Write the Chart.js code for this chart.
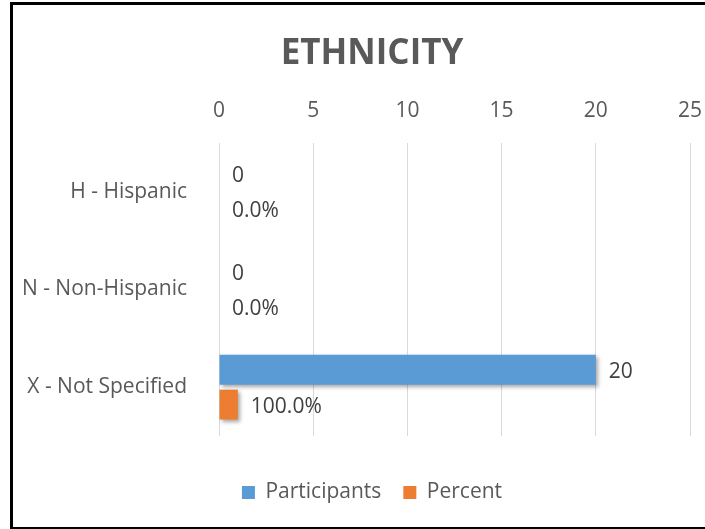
<!DOCTYPE html>
<html>
<head>
<meta charset="utf-8">
<script src="https://cdn.jsdelivr.net/npm/chart.js@4"></script>
<style>
  body { margin: 0; background: #fff; }
  #wrap { position: relative; width: 705px; height: 529px; overflow: hidden; }
  #frame { position: absolute; left: 10px; top: 2px; width: 760px; height: 522px;
           border: 3px solid #000; border-right: none; pointer-events: none; }
</style>
</head>
<body>
<div id="wrap">
  <!-- el grafico original sigue mas alla del borde derecho -->
  <canvas id="grafica" width="759" height="529"></canvas>
  <div id="frame"></div>
</div>
<script>
// datos
const categorias = ['H - Hispanic', 'N - Non-Hispanic', 'X - Not Specified']
const participantes = [0, 0, 20]
const porcentaje = [0, 0, 1]   // 1 = 100%
const ticksX = [0, 5, 10, 15, 20, 25]

const gris = '#595959'
const fuente = 'Open Sans'

// sombra suave de las barras
const sombra = {
  id: 'sombra',
  beforeDatasetsDraw(chart) {
    const ctx = chart.ctx
    ctx.save()
    ctx.shadowColor = 'rgba(0,0,0,0.35)'
    ctx.shadowBlur = 4
    ctx.shadowOffsetX = 2
    ctx.shadowOffsetY = 2
  },
  afterDatasetsDraw(chart) {
    chart.ctx.restore()
  }
}

// etiquetas al final de cada barra
const etiquetas = {
  id: 'etiquetas',
  afterDatasetsDraw(chart) {
    const ctx = chart.ctx
    ctx.save()
    ctx.font = '21px "' + fuente + '"'
    ctx.fillStyle = '#404040'
    ctx.textBaseline = 'middle'
    chart.data.datasets.forEach((ds, i) => {
      chart.getDatasetMeta(i).data.forEach((bar, j) => {
        const v = ds.data[j]
        const txt = i === 0 ? String(v) : (v * 100).toFixed(1) + '%'
        ctx.fillText(txt, bar.x + 13, bar.y + 2)
      })
    })
    ctx.restore()
  }
}

const sinPadding = s => { s.paddingLeft = 0; s.paddingRight = 0 }
const oculto = {
  display: true,
  grid: { display: false },
  border: { display: false },
  ticks: { display: false }
}

new Chart(document.getElementById('grafica'), {
  type: 'bar',
  data: {
    labels: categorias,
    datasets: [
      { label: 'Participants', data: participantes, backgroundColor: '#5B9BD5' },
      { label: 'Percent', data: porcentaje, backgroundColor: '#ED7D31' }
    ]
  },
  options: {
    indexAxis: 'y',
    responsive: false,
    animation: false,
    categoryPercentage: 0.714,
    barPercentage: 0.857,
    layout: { padding: { top: 0, right: 15, bottom: 16, left: 0 } },
    scales: {
      x: {
        position: 'top',
        min: 0,
        max: 25,
        afterBuildTicks: s => { s.ticks = ticksX.map(v => ({ value: v })) },
        afterFit: s => { s.height = 42; sinPadding(s) },
        grid: { color: '#d9d9d9', drawTicks: false },
        border: { display: false },
        ticks: { color: gris, font: { family: fuente, size: 21 }, padding: 19 }
      },
      y: {
        afterFit: s => { s.width = 219 },
        grid: { display: false },
        border: { display: false },
        ticks: { color: gris, font: { family: fuente, size: 21 }, padding: 24 }
      },
      relleno: {
        ...oculto,
        axis: 'x',
        position: 'bottom',
        afterFit: s => { s.height = 24; sinPadding(s) }
      },
      derecha: {
        ...oculto,
        type: 'linear',
        axis: 'y',
        position: 'right',
        afterFit: s => { s.width = 54 }
      }
    },
    plugins: {
      title: {
        display: true,
        text: 'ETHNICITY',
        color: gris,
        font: { family: fuente, size: 35, weight: 'bold' },
        padding: { top: 33, bottom: 26 }
      },
      legend: {
        position: 'bottom',
        labels: {
          color: gris,
          font: { family: fuente, size: 21 },
          boxWidth: 13,
          boxHeight: 13,
          padding: 22
        }
      },
      tooltip: { enabled: false }
    }
  },
  plugins: [sombra, etiquetas]
})
</script>
</body>
</html>
